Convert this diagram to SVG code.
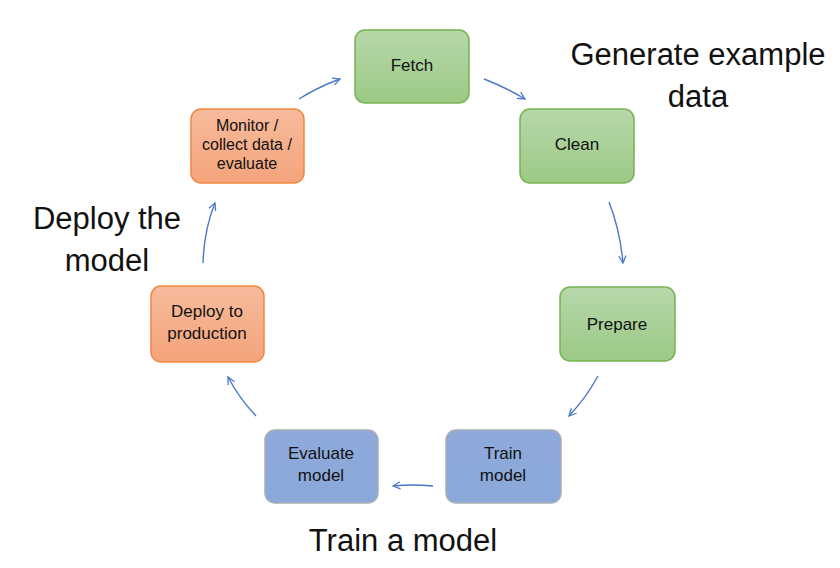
<svg xmlns="http://www.w3.org/2000/svg" width="840" height="568" viewBox="0 0 840 568">
<defs>
<linearGradient id="gGreen" x1="0" y1="0" x2="0" y2="1"><stop offset="0" stop-color="#b7d8aa"/><stop offset="1" stop-color="#9cc985"/></linearGradient>
<linearGradient id="gOrange" x1="0" y1="0" x2="0" y2="1"><stop offset="0" stop-color="#f7bb9c"/><stop offset="1" stop-color="#f4a47b"/></linearGradient>
<linearGradient id="gBlue" x1="0" y1="0" x2="0" y2="1"><stop offset="0" stop-color="#8eaadb"/><stop offset="1" stop-color="#8ba8da"/></linearGradient>
<marker id="ah" viewBox="0 0 10 10" refX="9" refY="5" markerWidth="9" markerHeight="9" orient="auto" markerUnits="userSpaceOnUse">
<path d="M1,1 L9,5 L1,9" fill="none" stroke="#4a78c8" stroke-width="1.4"/>
</marker>
<style>
.g rect{fill:url(#gGreen);stroke:#77b254;stroke-width:1.5}
.o rect{fill:url(#gOrange);stroke:#ef8840;stroke-width:1.5}
.b rect{fill:url(#gBlue);stroke:#a7adb5;stroke-width:1.5}
.t{font-family:"Liberation Sans",Arial,sans-serif;font-size:17px;fill:#111;text-anchor:middle}
.s{font-size:16px}
.big{font-family:"Liberation Sans",Arial,sans-serif;font-size:31px;fill:#111;text-anchor:middle}
.c path{fill:none;stroke:#4a78c8;stroke-width:1.4;marker-end:url(#ah)}
</style>
</defs>
<rect width="840" height="568" fill="#fff"/>
<g id="fetch" class="g"><rect x="355" y="30" width="114" height="73" rx="10"/><text class="t" x="412" y="71">Fetch</text></g>
<g id="clean" class="g"><rect x="520" y="109" width="114" height="74" rx="10"/><text class="t" x="577" y="150">Clean</text></g>
<g id="prepare" class="g"><rect x="560" y="287" width="115" height="74" rx="10"/><text class="t" x="617" y="330">Prepare</text></g>
<g id="train" class="b"><rect x="446" y="430" width="115" height="73" rx="10"/><text class="t" x="503" y="459">Train</text><text class="t" x="503" y="481">model</text></g>
<g id="evaluate" class="b"><rect x="265" y="430" width="113" height="73" rx="10"/><text class="t" x="321" y="459">Evaluate</text><text class="t" x="321" y="481">model</text></g>
<g id="deploy" class="o"><rect x="151" y="286" width="113" height="76" rx="10"/><text class="t" x="207" y="317">Deploy to</text><text class="t" x="207" y="339">production</text></g>
<g id="monitor" class="o"><rect x="191" y="109" width="113" height="74" rx="10"/><text class="t s" x="247" y="131">Monitor /</text><text class="t s" x="247" y="150">collect data /</text><text class="t s" x="247" y="169">evaluate</text></g>
<g id="connectors" class="c">
<path d="M299,99 Q318,87 340,79"/>
<path d="M484,79 Q505,87 525,99"/>
<path d="M609,202 Q620,230 623,263"/>
<path d="M598,376 Q586,398 569,416"/>
<path d="M433,486 Q412,484 393,486"/>
<path d="M256,416 Q239,398 228,377"/>
<path d="M203,263 Q204,230 215,203"/>
</g>
<g id="labels">
<text class="big" x="698" y="65">Generate example</text>
<text class="big" x="698" y="107">data</text>
<text class="big" x="107" y="229">Deploy the</text>
<text class="big" x="107" y="271">model</text>
<text class="big" x="403" y="551">Train a model</text>
</g>
</svg>
